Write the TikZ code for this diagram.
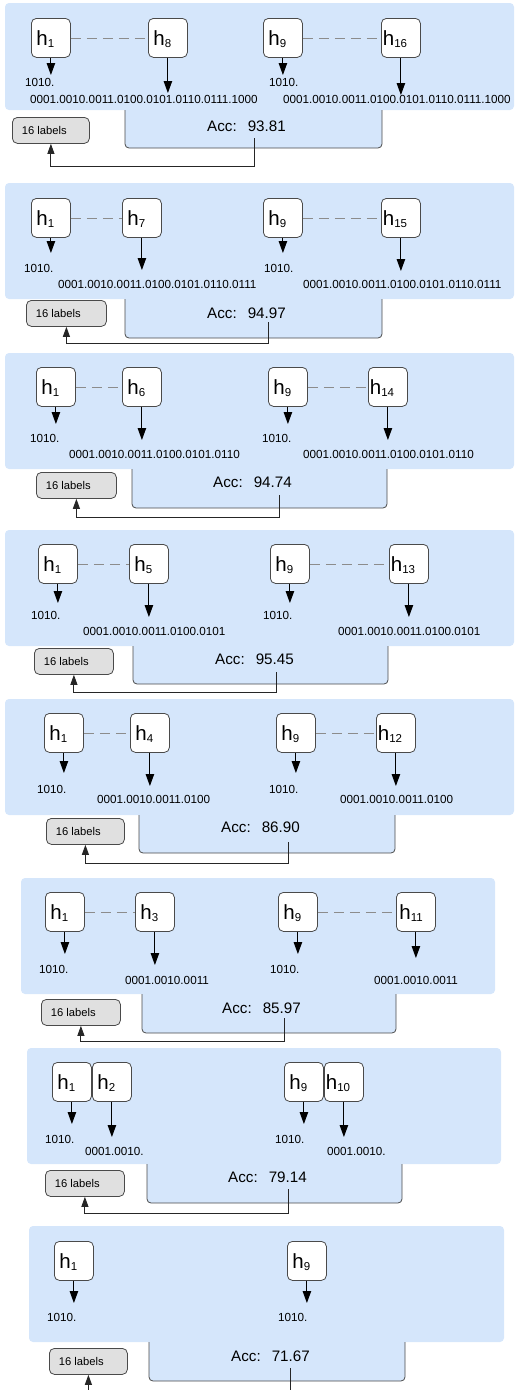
\documentclass[tikz,border=0pt]{standalone}
\usepackage{fontspec}
\setmainfont{Liberation Sans}
\usetikzlibrary{arrows.meta}
\definecolor{panelblue}{HTML}{D5E6FB}
\definecolor{boxline}{HTML}{4A4A4A}
\definecolor{labfill}{HTML}{E0E0E0}
\definecolor{dashgray}{HTML}{8C8C8C}
\tikzset{
 panel/.style={fill=panelblue, rounded corners=4pt},
 tabline/.style={draw=boxline, line width=0.8pt, rounded corners=4pt},
 hbox/.style={draw=boxline, fill=white, line width=0.8pt, rounded corners=5pt, minimum width=39pt, minimum height=39pt, inner sep=0pt, anchor=north west, font=\fontsize{20.5}{20.5}\selectfont},
 arr/.style={-{Triangle[length=12pt,width=8.5pt]}, line width=0.9pt, black},
 dashcon/.style={draw=dashgray, line width=0.8pt, dash pattern=on 10pt off 6pt},
 bits/.style={anchor=west, inner sep=0pt, font=\fontsize{11.7}{11.7}\selectfont},
 labbox/.style={draw=boxline, fill=labfill, line width=0.8pt, rounded corners=5pt, inner sep=0pt, anchor=north west, minimum height=26pt, font=\fontsize{11.2}{11.2}\selectfont},
 acc/.style={anchor=west, inner sep=0pt, font=\fontsize{15.2}{15.2}\selectfont},
 conn/.style={-{Triangle[length=10pt,width=7pt]}, line width=0.9pt, black!85},
}
\newcommand\panelbase[7]{%
 \fill[panel] (#1,#2) rectangle (#3,#4);
 \fill[panelblue, rounded corners=4pt] (#5,#4-10) rectangle (#6,#7);
 \draw[tabline] (#5,#4) -- (#5,#7) -- (#6,#7) -- (#6,#4);
}
\newcommand\hnode[6]{%
 \node[hbox] (#1) at (#2,#3) {\makebox[39pt][l]{\hspace{#4pt}h\raisebox{-2.5pt}[0pt][0pt]{\fontsize{11.5}{11.5}\selectfont #5}}};
 \coordinate (#1t) at (#1.south |- 0,#6);
 \draw[arr] (#1.south) -- (#1t);
}
\newcommand\labs[4]{%
 \node[labbox] (#1lab) at (#2,#3) {\makebox[#4pt][l]{\hspace{9.5pt}16 labels}};
}
\newcommand\accline[4]{%
 \coordinate (#1s) at (#2,#3);
 \coordinate (#1k) at (#2,#4);
 \draw[conn] (#1s) -- (#1k) -| (#1lab.south);
}
\begin{document}
\begin{tikzpicture}[x=1pt,y=-1pt]
\useasboundingbox (0,0) rectangle (515,1390);
\clip (0,0) rectangle (515,1390);
% ---------- panel 1
\panelbase{5}{3}{514}{110}{125}{382}{148}
\hnode{p1h1}{31}{18}{5}{1}{75}
\hnode{p1h8}{148}{18}{5}{8}{93}
\hnode{p1h9}{263}{18}{5}{9}{75}
\hnode{p1h16}{381}{18}{1.5}{16}{95}
\draw[dashcon] (p1h1.east) -- (p1h8.west);
\draw[dashcon] (p1h9.east) -- (p1h16.west);
\node[bits] (p1a) at (25,82) {1010.};
\node[bits] (p1b) at (30,99) {0001.0010.0011.0100.0101.0110.0111.1000};
\node[bits] (p1c) at (269,82) {1010.};
\node[bits] (p1d) at (283,99) {0001.0010.0011.0100.0101.0110.0111.1000};
\labs{p1}{12}{117}{77}
\node[acc] (p1acc) at (207,126) {Acc:\hspace{11pt}93.81};
\accline{p1}{254}{138}{166}
% ---------- panel 2
\panelbase{5}{183}{514}{299}{125}{382}{338}
\hnode{p2h1}{31}{198}{5}{1}{253}
\hnode{p2h7}{122}{198}{5}{7}{270}
\hnode{p2h9}{263}{198}{5}{9}{253}
\hnode{p2h15}{381}{198}{1.5}{15}{271}
\draw[dashcon] (p2h1.east) -- (p2h7.west);
\draw[dashcon] (p2h9.east) -- (p2h15.west);
\node[bits] (p2a) at (24,268) {1010.};
\node[bits] (p2b) at (58,284) {0001.0010.0011.0100.0101.0110.0111};
\node[bits] (p2c) at (264,268) {1010.};
\node[bits] (p2d) at (303,284) {0001.0010.0011.0100.0101.0110.0111};
\labs{p2}{26}{300}{80}
\node[acc] (p2acc) at (207,313) {Acc:\hspace{11pt}94.97};
\accline{p2}{268}{322}{343}
% ---------- panel 3
\panelbase{5}{353}{514}{469}{132}{387}{508}
\hnode{p3h1}{36}{367}{5}{1}{424}
\hnode{p3h6}{122}{367}{5}{6}{440}
\hnode{p3h9}{268}{367}{5}{9}{424}
\hnode{p3h14}{368}{367}{1.5}{14}{440}
\draw[dashcon] (p3h1.east) -- (p3h6.west);
\draw[dashcon] (p3h9.east) -- (p3h14.west);
\node[bits] (p3a) at (30,438) {1010.};
\node[bits] (p3b) at (69,454) {0001.0010.0011.0100.0101.0110};
\node[bits] (p3c) at (262,438) {1010.};
\node[bits] (p3d) at (303,454) {0001.0010.0011.0100.0101.0110};
\labs{p3}{36}{472}{80}
\node[acc] (p3acc) at (213,482) {Acc:\hspace{11pt}94.74};
\accline{p3}{279}{495}{517}
% ---------- panel 4
\panelbase{5}{530}{514}{646}{133}{388}{684}
\hnode{p4h1}{38}{544}{5}{1}{603}
\hnode{p4h5}{129}{544}{5}{5}{617}
\hnode{p4h9}{270}{544}{5}{9}{603}
\hnode{p4h13}{389}{544}{1.5}{13}{617}
\draw[dashcon] (p4h1.east) -- (p4h5.west);
\draw[dashcon] (p4h9.east) -- (p4h13.west);
\node[bits] (p4a) at (31,615) {1010.};
\node[bits] (p4b) at (83,631) {0001.0010.0011.0100.0101};
\node[bits] (p4c) at (263,615) {1010.};
\node[bits] (p4d) at (338,631) {0001.0010.0011.0100.0101};
\labs{p4}{34}{648}{79}
\node[acc] (p4acc) at (215,659) {Acc:\hspace{11pt}95.45};
\accline{p4}{276}{672}{692}
% ---------- panel 5
\panelbase{5}{699}{514}{815}{139}{395}{853}
\hnode{p5h1}{44}{713}{5}{1}{773}
\hnode{p5h4}{130}{713}{5}{4}{786}
\hnode{p5h9}{276}{713}{5}{9}{773}
\hnode{p5h12}{376}{713}{1.5}{12}{786}
\draw[dashcon] (p5h1.east) -- (p5h4.west);
\draw[dashcon] (p5h9.east) -- (p5h12.west);
\node[bits] (p5a) at (37,789) {1010.};
\node[bits] (p5b) at (97,799) {0001.0010.0011.0100};
\node[bits] (p5c) at (269,789) {1010.};
\node[bits] (p5d) at (340,799) {0001.0010.0011.0100};
\labs{p5}{46}{818}{78}
\node[acc] (p5acc) at (221,827) {Acc:\hspace{11pt}86.90};
\accline{p5}{288}{842}{863}
% ---------- panel 6
\panelbase{21}{878}{495}{994}{142}{396}{1033}
\hnode{p6h1}{45}{892}{5}{1}{954}
\hnode{p6h3}{135}{892}{5}{3}{965}
\hnode{p6h9}{278}{892}{5}{9}{954}
\hnode{p6h11}{396}{892}{3}{11}{958}
\draw[dashcon] (p6h1.east) -- (p6h3.west);
\draw[dashcon] (p6h9.east) -- (p6h11.west);
\node[bits] (p6a) at (39,969) {1010.};
\node[bits] (p6b) at (125,980) {0001.0010.0011};
\node[bits] (p6c) at (270,969) {1010.};
\node[bits] (p6d) at (374,980) {0001.0010.0011};
\labs{p6}{41}{999}{79}
\node[acc] (p6acc) at (222,1008) {Acc:\hspace{11pt}85.97};
\accline{p6}{284}{1018}{1041}
% ---------- panel 7
\panelbase{27}{1048}{501}{1164}{147}{402}{1203}
\hnode{p7h1}{52}{1062}{5}{1}{1124}
\hnode{p7h2}{92}{1062}{5}{2}{1137}
\hnode{p7h9}{284}{1062}{5}{9}{1124}
\hnode{p7h10}{324}{1062}{1.5}{10}{1137}
\node[bits] (p7a) at (45,1139) {1010.};
\node[bits] (p7b) at (85,1151) {0001.0010.};
\node[bits] (p7c) at (275,1139) {1010.};
\node[bits] (p7d) at (327,1151) {0001.0010.};
\labs{p7}{45}{1170}{79}
\node[acc] (p7acc) at (228,1177) {Acc:\hspace{11pt}79.14};
\accline{p7}{288}{1189}{1213}
% ---------- panel 8
\panelbase{29}{1226}{504}{1342}{149}{405}{1381}
\hnode{p8h1}{54}{1241}{5}{1}{1303}
\hnode{p8h9}{287}{1241}{5}{9}{1303}
\node[bits] (p8a) at (47,1317) {1010.};
\node[bits] (p8c) at (278,1317) {1010.};
\labs{p8}{49}{1348}{78}
\node[acc] (p8acc) at (231,1356) {Acc:\hspace{11pt}71.67};
\accline{p8}{290}{1368}{1402}
\end{tikzpicture}
\end{document}
